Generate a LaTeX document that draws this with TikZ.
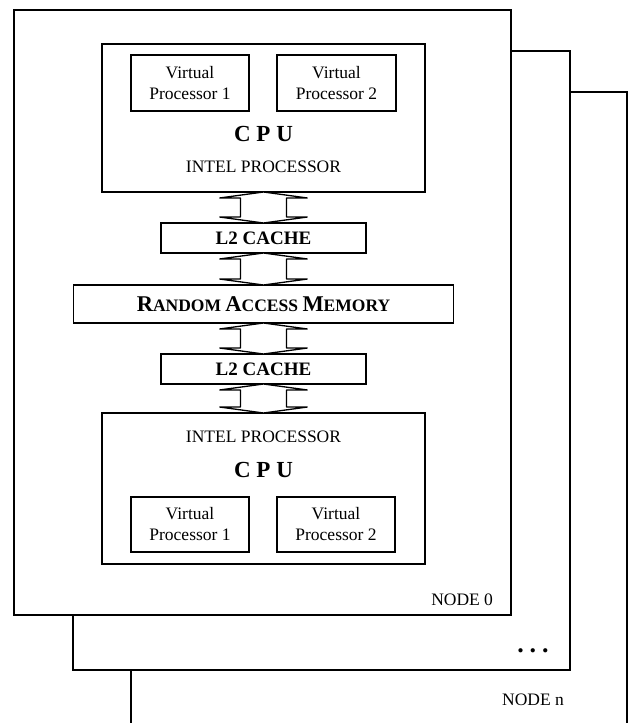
\documentclass[tikz,border=0pt]{standalone}
\usepackage{fontspec}
\setmainfont{Liberation Serif}
\usetikzlibrary{calc}
\tikzset{
  box/.style={draw, line width=1.2pt, rectangle, inner sep=0pt, outer sep=0pt, fill=white},
  sheet/.style={draw, line width=1.3pt, fill=white},
  busline/.style={draw, line width=1.3pt, line join=bevel, fill=white},
  txt/.style={inner sep=0pt, outer sep=0pt, align=center, font=\fontsize{17.5}{21}\selectfont},
  big/.style={inner sep=0pt, outer sep=0pt, font=\fontsize{23}{27}\selectfont\bfseries},
  cache/.style={box, font=\fontsize{19}{22}\selectfont\bfseries}
}
\newcommand\busarrow[2]{%
  \draw[busline] (#1.south) -- ($(#1.south)+(44,6)$) -- ($(#1.south)+(23,6)$)
    -- ($(#2.north)+(23,-6)$) -- ($(#2.north)+(44,-6)$) -- (#2.north)
    -- ($(#2.north)+(-44,-6)$) -- ($(#2.north)+(-23,-6)$)
    -- ($(#1.south)+(-23,6)$) -- ($(#1.south)+(-44,6)$) -- cycle;}
\begin{document}
\begin{tikzpicture}[x=1pt,y=-1pt]
\useasboundingbox (0,0) rectangle (633,723);
% stacked node sheets
\begin{scope}
\clip (0,0) rectangle (633,723);
\draw[sheet] (131,92) rectangle (627,760);
\end{scope}
\draw[sheet] (73,51) rectangle (570,670);
\draw[sheet] (14,10) rectangle (511,615);

% upper CPU
\node[box, minimum width=323pt, minimum height=148pt] (cpu1) at (263.5,118) {};
\node[box, txt, minimum width=118pt, minimum height=56pt] (vp11) at (190,83) {Virtual\\Processor 1};
\node[box, txt, minimum width=119pt, minimum height=56pt] (vp12) at (336.5,83) {Virtual\\Processor 2};
\node[big] (cpul1) at (263.5,134) {C P U};
\node[txt] (intel1) at (263.5,167) {INTEL PROCESSOR};

% caches and memory
\node[cache, minimum width=205pt, minimum height=30pt] (l2a) at (263.5,238) {L2 CACHE};
\node[box, minimum width=380pt, minimum height=38pt, font=\bfseries] (ram) at (263.5,304)
  {\fontsize{22.5}{26}\selectfont R\fontsize{17.5}{26}\selectfont ANDOM
   \fontsize{22.5}{26}\selectfont A\fontsize{17.5}{26}\selectfont CCESS
   \fontsize{22.5}{26}\selectfont M\fontsize{17.5}{26}\selectfont EMORY};
\node[cache, minimum width=205pt, minimum height=30pt] (l2b) at (263.5,369) {L2 CACHE};

% lower CPU
\node[box, minimum width=323pt, minimum height=151pt] (cpu2) at (263.5,488.5) {};
\node[txt] (intel2) at (263.5,437) {INTEL PROCESSOR};
\node[big] (cpul2) at (263.5,470) {C P U};
\node[box, txt, minimum width=118pt, minimum height=55pt] (vp21) at (190,524.5) {Virtual\\Processor 1};
\node[box, txt, minimum width=118pt, minimum height=55pt] (vp22) at (336,524.5) {Virtual\\Processor 2};

% bus arrows
\busarrow{cpu1}{l2a}
\busarrow{l2a}{ram}
\busarrow{ram}{l2b}
\busarrow{l2b}{cpu2}

% labels
\node[txt, anchor=east] (n0) at (493,600) {NODE 0};
\node[inner sep=0pt, font=\fontsize{26}{26}\selectfont\bfseries] (dots) at (533,651) {.\hspace{6pt}.\hspace{6pt}.};
\node[txt] (nn) at (533,700) {NODE n};
\end{tikzpicture}
\end{document}
